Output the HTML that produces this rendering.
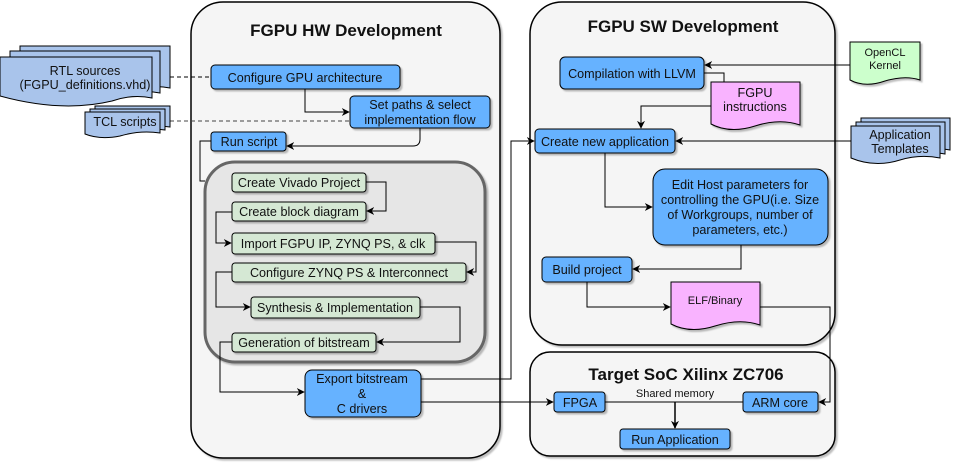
<!DOCTYPE html>
<html><head><meta charset="utf-8"><style>
html,body{margin:0;padding:0;background:#fff}
svg{display:block}
text{font-family:"Liberation Sans",Arial,sans-serif;fill:#111}
</style></head><body>
<svg width="954" height="464" viewBox="0 0 954 464" xmlns="http://www.w3.org/2000/svg">
<defs>
<marker id="a" viewBox="0 0 10 10" refX="9" refY="5" markerWidth="8" markerHeight="8" orient="auto" markerUnits="userSpaceOnUse"><path d="M0,0 L10,5 L0,10 L3,5 Z" fill="#000"/></marker>
<filter id="s" x="-10%" y="-10%" width="130%" height="140%"><feDropShadow dx="2" dy="2" stdDeviation="0.8" flood-color="#000" flood-opacity="0.25"/></filter>
</defs>
<g font-size="12.6">
<rect x="191" y="2" width="309" height="456" rx="32" fill="#f5f5f5" stroke="#000" stroke-width="1.5" filter="url(#s)"/>
<text x="346" y="36" text-anchor="middle" font-size="17" font-weight="bold">FGPU HW Development</text>
<rect x="530" y="2" width="305" height="343" rx="32" fill="#f5f5f5" stroke="#000" stroke-width="1.5" filter="url(#s)"/>
<text x="683" y="32" text-anchor="middle" font-size="17" font-weight="bold">FGPU SW Development</text>
<rect x="530" y="352" width="305" height="104" rx="20" fill="#f5f5f5" stroke="#000" stroke-width="1.5" filter="url(#s)"/>
<text x="686" y="380" text-anchor="middle" font-size="17" font-weight="bold">Target SoC Xilinx ZC706</text>
<rect x="205" y="162" width="280" height="200" rx="30" fill="#e6e6e6" stroke="#666" stroke-width="3" filter="url(#s)"/>

<g fill="none" stroke="#000" stroke-width="1">
<path d="M170,77 H211" stroke-dasharray="4,3"/>
<path d="M170,121 H350" stroke-dasharray="4,3" stroke="#444"/>
<path d="M305,89 V112 H349" marker-end="url(#a)"/>
<path d="M420,128 V139 Q420,146 413,146 H287" marker-end="url(#a)"/>
<path d="M211,141 H200 V181 H205"/>
<path d="M366,182 H386 V211 H367" marker-end="url(#a)"/>
<path d="M232,212 H216 V243 H231" marker-end="url(#a)"/>
<path d="M435,242 H476 V272 H467" marker-end="url(#a)"/>
<path d="M232,272 H216 V307 H250" marker-end="url(#a)"/>
<path d="M420,307 H460 V342 H377" marker-end="url(#a)"/>
<path d="M232,342 H220 V392 H304" marker-end="url(#a)"/>
<path d="M421,379 H511 V141 H534" marker-end="url(#a)"/>
<path d="M421,402 H553" marker-end="url(#a)"/>
<path d="M850,65 H705" marker-end="url(#a)"/>
<path d="M704,73 H724 V83"/>
<path d="M711,106 H641 V128" marker-end="url(#a)"/>
<path d="M851,141 H676" marker-end="url(#a)"/>
<path d="M605,153 V207 H652" marker-end="url(#a)"/>
<path d="M741,245 V269 H633" marker-end="url(#a)"/>
<path d="M587,282 V307 H670" marker-end="url(#a)"/>
<path d="M760,307 H830 V402 H819" marker-end="url(#a)"/>
<path d="M605,402 H743"/>
<path d="M675,402 V428" marker-end="url(#a)" stroke-width="1.5"/>
</g>

<g stroke="#000" stroke-width="1" filter="url(#s)">
<rect x="211" y="65" width="189" height="24" rx="4" fill="#66b2ff"/>
<rect x="350" y="96" width="140" height="32" rx="4" fill="#66b2ff"/>
<rect x="211" y="132" width="75" height="19" rx="3" fill="#66b2ff"/>
<rect x="232" y="173" width="134" height="19" rx="3" fill="#d5e8d4"/>
<rect x="232" y="202" width="134" height="19" rx="3" fill="#d5e8d4"/>
<rect x="232" y="233" width="203" height="21" rx="3" fill="#d5e8d4"/>
<rect x="232" y="263" width="234" height="19" rx="3" fill="#d5e8d4"/>
<rect x="251" y="297" width="169" height="21" rx="3" fill="#d5e8d4"/>
<rect x="232" y="333" width="144" height="19" rx="3" fill="#d5e8d4"/>
<rect x="305" y="370" width="116" height="47" rx="7" fill="#66b2ff"/>
</g>
<text x="305" y="82" text-anchor="middle">Configure GPU architecture</text>
<text x="420" y="109" text-anchor="middle">Set paths &amp; select</text>
<text x="420" y="124" text-anchor="middle">implementation flow</text>
<text x="249" y="146" text-anchor="middle">Run script</text>
<text x="299" y="187" text-anchor="middle">Create Vivado Project</text>
<text x="299" y="216" text-anchor="middle">Create block diagram</text>
<text x="333" y="248" text-anchor="middle">Import FGPU IP, ZYNQ PS, &amp; clk</text>
<text x="349" y="277" text-anchor="middle">Configure ZYNQ PS &amp; Interconnect</text>
<text x="335" y="312" text-anchor="middle">Synthesis &amp; Implementation</text>
<text x="304" y="347" text-anchor="middle">Generation of bitstream</text>
<text x="362" y="383" text-anchor="middle">Export bitstream</text>
<text x="362" y="398" text-anchor="middle">&amp;</text>
<text x="362" y="413" text-anchor="middle">C drivers</text>

<g stroke="#000" stroke-width="1" fill="#a9c4eb">
<path d="M20,46 H170 V88 Q150,84 130,92 Q80,104 20,86 Z"/>
<path d="M10,51 H160 V93 Q140,89 120,97 Q70,109 10,91 Z"/>
<path d="M0,57 H152 V98 Q132,94 112,101 Q62,113 0,96 Z"/>
<path d="M95,106 H170 V127 Q150,124 130,130 Q110,134 95,128 Z"/>
<path d="M90,109 H165 V130 Q145,127 125,133 Q105,137 90,131 Z"/>
<path d="M85,112 H160 V133 Q140,130 120,136 Q100,140 85,134 Z"/>
</g>
<text x="85" y="75" text-anchor="middle">RTL sources</text>
<text x="85" y="89" text-anchor="middle">(FGPU_definitions.vhd)</text>
<text x="125" y="126" text-anchor="middle">TCL scripts</text>

<g stroke="#000" stroke-width="1" filter="url(#s)">
<rect x="560" y="57" width="144" height="32" rx="5" fill="#66b2ff"/>
<path d="M711,82 H800 V125 Q780,118 755,126 Q730,134 711,124 Z" fill="#f9b3ff"/>
<path d="M850,42 H920 V80 Q905,75 885,81 Q865,88 850,80 Z" fill="#ccffcc"/>
<rect x="535" y="129" width="140" height="24" rx="4" fill="#66b2ff"/>
<rect x="653" y="169" width="175" height="76" rx="12" fill="#66b2ff"/>
<rect x="542" y="257" width="90" height="25" rx="4" fill="#66b2ff"/>
<path d="M671,282 H760 V325 Q740,318 715,326 Q690,334 671,324 Z" fill="#f9b3ff"/>
<rect x="554" y="392" width="51" height="20" rx="3" fill="#66b2ff"/>
<rect x="743" y="392" width="75" height="20" rx="3" fill="#66b2ff"/>
<rect x="620" y="429" width="110" height="20" rx="3" fill="#66b2ff"/>
</g>
<g stroke="#000" stroke-width="1" fill="#a9c4eb">
<path d="M861,118 H950 V150 Q930,146 910,152 Q885,160 861,150 Z"/>
<path d="M856,122 H945 V154 Q925,150 905,156 Q880,164 856,154 Z"/>
<path d="M851,126 H940 V158 Q920,154 900,160 Q875,168 851,158 Z"/>
</g>
<text x="632" y="78" text-anchor="middle">Compilation with LLVM</text>
<text x="755" y="97" text-anchor="middle">FGPU</text>
<text x="755" y="111" text-anchor="middle">instructions</text>
<text x="885" y="56" text-anchor="middle" font-size="11">OpenCL</text>
<text x="885" y="69" text-anchor="middle" font-size="11">Kernel</text>
<text x="605" y="146" text-anchor="middle">Create new application</text>
<text x="900" y="139" text-anchor="middle">Application</text>
<text x="900" y="153" text-anchor="middle">Templates</text>
<text x="740" y="189" text-anchor="middle">Edit Host parameters for</text>
<text x="740" y="204" text-anchor="middle">controlling the GPU(i.e. Size</text>
<text x="740" y="219" text-anchor="middle">of Workgroups, number of</text>
<text x="740" y="234" text-anchor="middle">parameters, etc.)</text>
<text x="587" y="274" text-anchor="middle">Build project</text>
<text x="715" y="304" text-anchor="middle" font-size="11">ELF/Binary</text>
<text x="580" y="407" text-anchor="middle">FPGA</text>
<text x="780" y="407" text-anchor="middle">ARM core</text>
<text x="675" y="444" text-anchor="middle">Run Application</text>
<text x="675" y="397" text-anchor="middle" font-size="11">Shared memory</text>
</g>
</svg>
</body></html>
